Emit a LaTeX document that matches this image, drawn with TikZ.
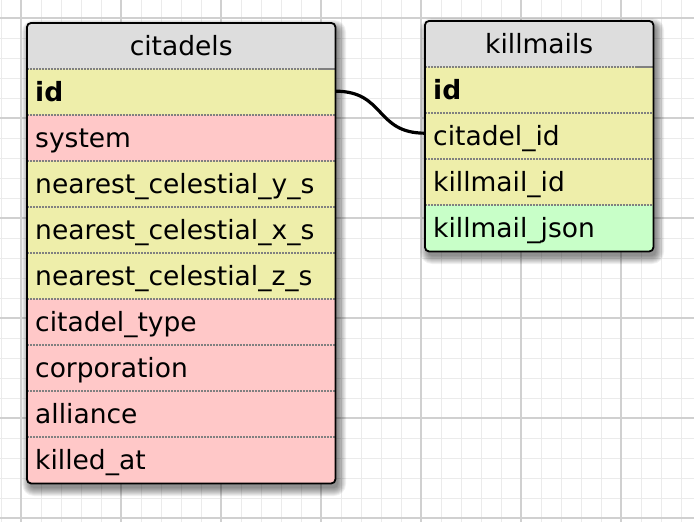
\documentclass[tikz,border=0pt]{standalone}
\usepackage{fontspec}
\setmainfont{DejaVu Sans}
\definecolor{rowY}{HTML}{EEEEAA}
\definecolor{rowP}{HTML}{FFC8C8}
\definecolor{rowG}{HTML}{C8FFC8}
\definecolor{headG}{HTML}{DDDDDD}
\definecolor{gridMinor}{HTML}{EBEBEB}
\definecolor{gridMajor}{HTML}{D0D0D0}
\definecolor{sepC}{HTML}{808080}
\tikzset{
  cell/.style={anchor=north west, minimum height=46pt, inner xsep=8pt, inner ysep=0pt,
    text height=22pt, text depth=4pt, font=\fontsize{26.5}{31}\selectfont},
  crow/.style={cell, text width=292pt, align=left},
  krow/.style={cell, text width=212pt, align=left},
  chead/.style={cell, text width=292pt, align=center, fill=headG},
  khead/.style={cell, text width=212pt, align=center, fill=headG},
  sep/.style={draw=sepC, line width=1.4pt, dash pattern=on 1.5pt off 1.5pt},
  sepsolid/.style={draw=sepC, line width=1.6pt},
  frame/.style={draw=black, line width=1.8pt, rounded corners=4pt},
  link/.style={draw=black, line width=3.2pt},
}
\begin{document}
\begin{tikzpicture}[x=1pt,y=-1pt]
\useasboundingbox (0,0) rectangle (694,522);
\fill[white] (0,0) rectangle (694,522);
% grid
\foreach \x in {1,21,...,681} \draw[gridMinor, line width=1pt] (\x,0) -- (\x,522);
\foreach \y in {18,38,...,518} \draw[gridMinor, line width=1pt] (0,\y) -- (694,\y);
\foreach \x in {21,121,...,621} \draw[gridMajor, line width=2pt] (\x,0) -- (\x,522);
\foreach \y in {18,118,...,518} \draw[gridMajor, line width=2pt] (0,\y) -- (694,\y);
% shadows
\foreach \e [evaluate=\e as \r using 4+\e] in {0,...,8} {
  \fill[black, opacity=0.06, rounded corners=\r pt] ({27+3-\e},{23+5-\e}) rectangle ({335+3+\e},{483+5+\e});
  \fill[black, opacity=0.06, rounded corners=\r pt] ({425+3-\e},{21+5-\e}) rectangle ({653+3+\e},{251+5+\e});
}
% citadels table
\begin{scope}
\clip[rounded corners=4pt] (27,23) rectangle (335,483);
\node[chead] (c-head) at (27,23) {citadels};
\node[crow, fill=rowY] (c-id) at (27,69) {\textbf{id}};
\node[crow, fill=rowP] (c-sys) at (27,115) {system};
\node[crow, fill=rowY] (c-ys) at (27,161) {nearest\_celestial\_y\_s};
\node[crow, fill=rowY] (c-xs) at (27,207) {nearest\_celestial\_x\_s};
\node[crow, fill=rowY] (c-zs) at (27,253) {nearest\_celestial\_z\_s};
\node[crow, fill=rowP] (c-type) at (27,299) {citadel\_type};
\node[crow, fill=rowP] (c-corp) at (27,345) {corporation};
\node[crow, fill=rowP] (c-all) at (27,391) {alliance};
\node[crow, fill=rowP] (c-kat) at (27,437) {killed\_at};
\draw[sep] (c-id.north west) -- ([xshift=-15pt]c-id.north east);
\draw[sepsolid] ([xshift=-15pt]c-id.north east) -- (c-id.north east);
\foreach \n in {c-sys,c-ys,c-xs,c-zs,c-type,c-corp,c-all,c-kat}
  \draw[sep] (\n.north west) -- (\n.north east);
\end{scope}
% killmails table
\begin{scope}
\clip[rounded corners=4pt] (425,21) rectangle (653,251);
\node[khead] (k-head) at (425,21) {killmails};
\node[krow, fill=rowY] (k-id) at (425,67) {\textbf{id}};
\node[krow, fill=rowY] (k-cid) at (425,113) {citadel\_id};
\node[krow, fill=rowY] (k-kid) at (425,159) {killmail\_id};
\node[krow, fill=rowG] (k-json) at (425,205) {killmail\_json};
\draw[sep] (k-id.north west) -- ([xshift=-18pt]k-id.north east);
\draw[sepsolid] ([xshift=-18pt]k-id.north east) -- (k-id.north east);
\foreach \n in {k-cid,k-kid,k-json}
  \draw[sep] (\n.north west) -- (\n.north east);
\end{scope}
% connector
\draw[link] ([yshift=1pt]c-id.east) .. controls +(50,0) and +(-50,0) .. ([yshift=3pt]k-cid.west);
% frames
\draw[frame] (c-head.north west) rectangle (c-kat.south east);
\draw[frame] (k-head.north west) rectangle (k-json.south east);
\end{tikzpicture}
\end{document}
